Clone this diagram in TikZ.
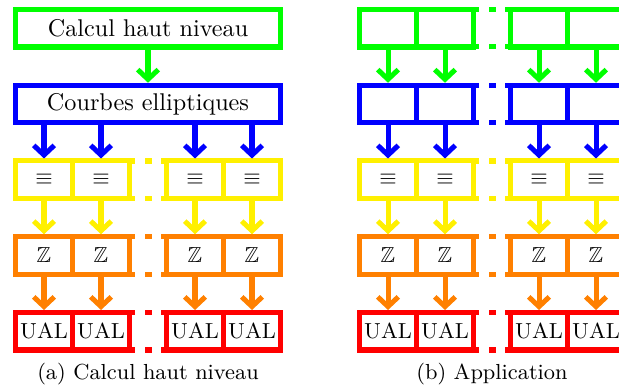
\documentclass[tikz,border=0pt]{standalone}
\usepackage{amssymb}
\usetikzlibrary{arrows.meta}
\definecolor{cgreen}{RGB}{0,255,0}
\definecolor{cblue}{RGB}{0,0,255}
\definecolor{cyellow}{RGB}{255,240,0}
\definecolor{corange}{RGB}{255,128,0}
\definecolor{cred}{RGB}{255,0,0}
\begin{document}
\begin{tikzpicture}[x=0.4132pt,y=-0.4132pt,
  cell/.style={draw, line width=2.07pt, minimum width=23.55pt, minimum height=15.5pt, inner sep=0pt, font=\small, text=black},
  big/.style={draw, line width=2.07pt, minimum width=109.5pt, minimum height=15.5pt, inner sep=0pt, text=black},
  arr/.style={line width=2.07pt, -{Straight Barb[length=4pt,width=8.5pt]}},
  stub/.style={line width=2.07pt}]
\clip (0,0) rectangle (619,390);
% ---------- panel (a) ----------
\node[big, draw=cgreen] (a0) at (148,28.25) {Calcul haut niveau};
\node[big, draw=cblue] (a1) at (148,104) {Courbes elliptiques};
\foreach \r/\col/\txt in {2/cyellow/$\equiv$, 3/corange/$\mathbb{Z}$, 4/cred/UAL}{
  \pgfmathsetmacro{\yy}{28.25+75.75*\r}
  \foreach \c/\xx in {1/44, 2/101, 3/195, 4/252}{
    \node[cell, draw=\col] (a-\r-\c) at (\xx,\yy) {\txt};
  }
  \foreach \yl in {-18.75, 18.75}{
    \draw[stub, \col] (129.5,\yy+\yl) -- (135,\yy+\yl);
    \draw[stub, \col] (145,\yy+\yl) -- (152,\yy+\yl);
    \draw[stub, \col] (161,\yy+\yl) -- (166.5,\yy+\yl);
  }
}
\draw[arr, cgreen] (a0.south) -- (a1.north);
\foreach \c in {1,2,3,4}{
  \draw[arr, cblue] (a-2-\c.north |- a1.south) -- (a-2-\c.north);
  \draw[arr, cyellow] (a-2-\c.south) -- (a-3-\c.north);
  \draw[arr, corange] (a-3-\c.south) -- (a-4-\c.north);
}
% ---------- panel (b) ----------
\foreach \r/\col/\txt in {0/cgreen/{}, 1/cblue/{}, 2/cyellow/$\equiv$, 3/corange/$\mathbb{Z}$, 4/cred/UAL}{
  \pgfmathsetmacro{\yy}{28.25+75.75*\r}
  \foreach \c/\xx in {1/388, 2/445, 3/539, 4/596}{
    \node[cell, draw=\col] (b-\r-\c) at (\xx,\yy) {\txt};
  }
  \foreach \yl in {-18.75, 18.75}{
    \draw[stub, \col] (473.5,\yy+\yl) -- (479,\yy+\yl);
    \draw[stub, \col] (489,\yy+\yl) -- (496,\yy+\yl);
    \draw[stub, \col] (505,\yy+\yl) -- (510.5,\yy+\yl);
  }
}
\foreach \c in {1,2,3,4}{
  \draw[arr, cgreen] (b-0-\c.south) -- (b-1-\c.north);
  \draw[arr, cblue] (b-1-\c.south) -- (b-2-\c.north);
  \draw[arr, cyellow] (b-2-\c.south) -- (b-3-\c.north);
  \draw[arr, corange] (b-3-\c.south) -- (b-4-\c.north);
}
% ---------- captions ----------
\node[font=\small, inner sep=0pt] (capa) at (148,374) {(a) Calcul haut niveau};
\node[font=\small, inner sep=0pt] (capb) at (492,374) {(b) Application};
\end{tikzpicture}
\end{document}
